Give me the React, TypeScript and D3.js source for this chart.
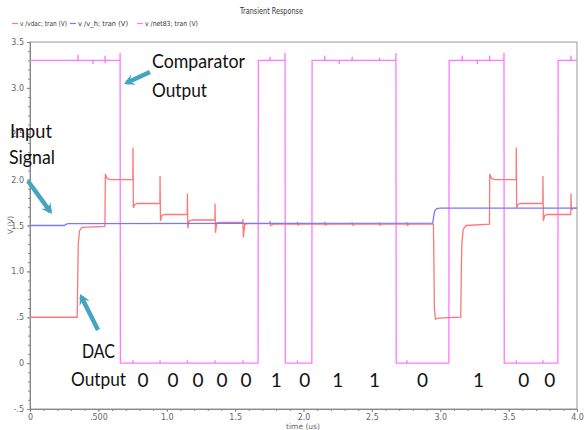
import React, { useEffect, useRef } from "react";
import * as d3 from "d3";

// time (us), volts
const vdac: [number, number][] = [
  [0, 0.5], [0.345, 0.5], [0.349, 0.9], [0.353, 1.3], [0.362, 1.44], [0.38, 1.48], [0.548, 1.49],
  [0.551, 2.06], [0.565, 2.01], [0.59, 2.0], [0.752, 2.0], [0.753, 2.35], [0.756, 1.69],
  [0.766, 1.73], [0.785, 1.74], [0.95, 1.74], [0.951, 2.04], [0.954, 1.55], [0.964, 1.61],
  [0.985, 1.62], [1.15, 1.62], [1.151, 1.85], [1.154, 1.47], [1.164, 1.55], [1.185, 1.56],
  [1.352, 1.56], [1.353, 1.74], [1.356, 1.42], [1.366, 1.53], [1.385, 1.535], [1.556, 1.535],
  [1.557, 1.57], [1.56, 1.37], [1.57, 1.51], [1.59, 1.52], [1.755, 1.52], [1.756, 1.55],
  [1.759, 1.5], [1.78, 1.515], [1.955, 1.515], [1.956, 1.54], [1.959, 1.505], [1.975, 1.515],
  [2.155, 1.515], [2.156, 1.54], [2.159, 1.505], [2.175, 1.515], [2.355, 1.515], [2.356, 1.535],
  [2.359, 1.505], [2.375, 1.515], [2.555, 1.515], [2.556, 1.535], [2.559, 1.505], [2.575, 1.515],
  [2.755, 1.515], [2.756, 1.535], [2.759, 1.5], [2.775, 1.515], [2.95, 1.515], [2.953, 1.2],
  [2.957, 0.6], [2.965, 0.48], [2.985, 0.49], [3.15, 0.5], [3.153, 0.9], [3.158, 1.3],
  [3.168, 1.46], [3.19, 1.5], [3.36, 1.515], [3.362, 2.06], [3.376, 2.01], [3.4, 2.0],
  [3.555, 2.0], [3.556, 2.35], [3.559, 1.69], [3.569, 1.73], [3.585, 1.74], [3.75, 1.74],
  [3.751, 2.04], [3.754, 1.55], [3.764, 1.61], [3.785, 1.62], [3.955, 1.62], [3.956, 1.85],
  [3.959, 1.67], [3.975, 1.69], [4.0, 1.69],
];

const vh: [number, number][] = [
  [0, 1.5], [0.25, 1.5], [0.262, 1.512], [0.28, 1.52], [2.945, 1.525], [2.952, 1.6],
  [2.96, 1.66], [2.975, 1.685], [3.0, 1.69], [4.0, 1.69],
];

const net83: [number, number][] = [
  [0, 3.3], [0.35, 3.3], [0.351, 3.36], [0.352, 3.3], [0.46, 3.3], [0.461, 3.26], [0.462, 3.3],
  [0.548, 3.3], [0.549, 3.35], [0.55, 3.27], [0.551, 3.3], [0.658, 3.3], [0.659, 3.38],
  [0.661, 0], [0.752, 0], [0.753, 0.03], [0.754, 0], [0.95, 0], [0.951, 0.03], [0.952, 0],
  [1.15, 0], [1.151, 0.03], [1.152, 0], [1.352, 0], [1.353, 0.03], [1.354, 0], [1.556, 0],
  [1.557, 0.03], [1.558, 0], [1.668, 0], [1.67, 3.3], [1.755, 3.3], [1.756, 3.34],
  [1.757, 3.3], [1.864, 3.3], [1.865, 3.38], [1.867, 0], [1.955, 0], [1.956, 0.03],
  [1.957, 0], [2.061, 0], [2.063, 3.3], [2.155, 3.3], [2.156, 3.35], [2.157, 3.3],
  [2.26, 3.3], [2.261, 3.26], [2.262, 3.3], [2.355, 3.3], [2.356, 3.34], [2.357, 3.3],
  [2.555, 3.3], [2.556, 3.33], [2.557, 3.3], [2.675, 3.3], [2.676, 3.38], [2.678, 0],
  [2.755, 0], [2.756, 0.03], [2.757, 0], [3.063, 0], [3.065, 3.3], [3.16, 3.3], [3.161, 3.35],
  [3.162, 3.3], [3.27, 3.3], [3.271, 3.26], [3.272, 3.3], [3.36, 3.3], [3.361, 3.35],
  [3.362, 3.3], [3.465, 3.3], [3.466, 3.38], [3.468, 0], [3.555, 0], [3.556, 0.03],
  [3.557, 0], [3.75, 0], [3.751, 0.03], [3.752, 0], [3.86, 0], [3.862, 3.3], [3.955, 3.3],
  [3.956, 3.35], [3.957, 3.3], [4.0, 3.3],
];

const yTicks = [-0.5, 0, 0.5, 1.0, 1.5, 2.0, 2.5, 3.0, 3.5];
const yTickLabels = ["-.5", "0", ".5", "1.0", "1.5", "2.0", "2.5", "3.0", "3.5"];
const xTicks = [0, 0.5, 1.0, 1.5, 2.0, 2.5, 3.0, 3.5, 4.0];
const xTickLabels = ["0", ".500", "1.0", "1.5", "2.0", "2.5", "3.0", "3.5", "4.0"];

const bits = ["0", "0", "0", "0", "0", "1", "0", "1", "1", "0", "1", "0", "0"];
const bitTimes = [0.826, 1.046, 1.228, 1.404, 1.58, 1.8, 2.01, 2.25, 2.52, 2.87, 3.28, 3.61, 3.8];

const legend = [
  { name: "v /vdac; tran (V)", color: "#ff7878" },
  { name: "v /v_h; tran (V)", color: "#7878ff" },
  { name: "v /net83; tran (V)", color: "#ff78ff" },
];

export default function App() {
  const svgRef = useRef<SVGSVGElement>(null);

  useEffect(() => {
    const W = 584, H = 430;
    const svg = d3.select(svgRef.current);
    svg.selectAll("*").remove();

    const x = d3.scaleLinear().domain([0, 4]).range([30, 577]);
    const y = d3.scaleLinear().domain([-0.5, 3.5]).range([409, 42]);

    svg.append("rect").attr("width", W).attr("height", H).attr("fill", "#fff");

    // title + legend
    svg.append("text").attr("x", 240).attr("y", 14).attr("font-size", 8)
      .attr("font-family", "DejaVu Sans").attr("fill", "#333")
      .attr("textLength", 63).attr("lengthAdjust", "spacingAndGlyphs").text("Transient Response");
    const legX = [12, 70, 137];
    const legW = [47, 50, 53];
    legend.forEach((l, i) => {
      const g = svg.append("g").attr("transform", `translate(${legX[i]},26)`);
      g.append("line").attr("x1", 0).attr("x2", 6).attr("y1", -2.5).attr("y2", -2.5)
        .attr("stroke", l.color).attr("stroke-width", 1.2);
      g.append("text").attr("x", 8).attr("font-size", 7).attr("font-family", "DejaVu Sans")
        .attr("fill", "#333").attr("textLength", legW[i])
        .attr("lengthAdjust", "spacingAndGlyphs").text(l.name);
    });

    // frame
    svg.append("rect").attr("x", 30).attr("y", 42).attr("width", 547).attr("height", 367)
      .attr("fill", "none").attr("stroke", "#999").attr("stroke-width", 1);

    // axes
    const yAxis = d3.axisLeft(y).tickValues(yTicks).tickSize(3)
      .tickFormat((d, i) => yTickLabels[i]);
    const yMinor = d3.axisLeft(y).tickValues(d3.range(-0.5, 3.51, 0.1)).tickSize(2).tickFormat(() => "");
    const xAxis = d3.axisBottom(x).tickValues(xTicks).tickSize(3).tickPadding(2)
      .tickFormat((d, i) => xTickLabels[i]);
    const xMinor = d3.axisBottom(x).tickValues(d3.range(0, 4.01, 0.1)).tickSize(2).tickFormat(() => "");

    [yMinor, yAxis].forEach((a) => {
      svg.append("g").attr("transform", "translate(30,0)").call(a as any);
    });
    [xMinor, xAxis].forEach((a) => {
      svg.append("g").attr("transform", "translate(0,409)").call(a as any);
    });
    svg.selectAll(".domain").attr("stroke", "#888");
    svg.selectAll(".tick line").attr("stroke", "#888");
    svg.selectAll(".tick text").attr("fill", "#666").attr("font-size", 8)
      .attr("font-family", "DejaVu Sans");

    svg.append("text").attr("transform", "translate(13,225) rotate(-90)")
      .attr("text-anchor", "middle").attr("font-size", 7.5).attr("font-family", "DejaVu Sans")
      .attr("fill", "#666").text("V (V)");
    svg.append("text").attr("x", 303).attr("y", 429).attr("text-anchor", "middle")
      .attr("font-size", 7.5).attr("font-family", "DejaVu Sans").attr("fill", "#666").text("time (us)");

    // traces
    const line = d3.line<[number, number]>().x((d) => x(d[0])).y((d) => y(d[1]));
    const traces: [[number, number][], string][] = [
      [net83, legend[2].color], [vdac, legend[0].color], [vh, legend[1].color],
    ];
    traces.forEach(([d, c]) => {
      svg.append("path").datum(d).attr("d", line).attr("fill", "none")
        .attr("stroke", c).attr("stroke-width", 1.3);
    });

    // annotations
    const ann = svg.append("g").attr("font-family", "Lato").attr("font-size", 19).attr("fill", "#111");
    const words: [string, number, number, number][] = [
      ["Comparator", 152, 68, 93], ["Output", 152, 97, 55], ["Input", 10, 138, 42],
      ["Signal", 9, 164, 46], ["DAC", 82, 358, 33], ["Output", 71, 386, 55],
    ];
    words.forEach(([t, tx, ty, tl]) => {
      ann.append("text").attr("x", tx).attr("y", ty).attr("textLength", tl)
        .attr("lengthAdjust", "spacingAndGlyphs").text(t);
    });
    bits.forEach((b, i) => {
      ann.append("text").attr("x", x(bitTimes[i])).attr("y", 387)
        .attr("text-anchor", "middle").text(b);
    });

    const arrows = [
      [[150, 72], [124, 84]],
      [[28, 181], [52, 214]],
      [[98, 330], [80, 294]],
    ];
    const teal = "#45a5c0";
    arrows.forEach(([[x1, y1], [x2, y2]]) => {
      const ang = Math.atan2(y2 - y1, x2 - x1);
      const hl = 12;
      svg.append("line").attr("x1", x1).attr("y1", y1).attr("x2", x2 - Math.cos(ang) * 3)
        .attr("y2", y2 - Math.sin(ang) * 3).attr("stroke", teal).attr("stroke-width", 4.5);
      const p = [
        [x2, y2],
        [x2 - hl * Math.cos(ang - 0.5), y2 - hl * Math.sin(ang - 0.5)],
        [x2 - hl * 0.55 * Math.cos(ang), y2 - hl * 0.55 * Math.sin(ang)],
        [x2 - hl * Math.cos(ang + 0.5), y2 - hl * Math.sin(ang + 0.5)],
      ];
      svg.append("path").attr("d", "M" + p.map((q) => q.join(",")).join("L") + "Z")
        .attr("fill", teal);
    });
  }, []);

  return (
    <svg ref={svgRef} width={584} height={430}
      style={{ position: "absolute", left: 0, top: 0, display: "block" }} />
  );
}
